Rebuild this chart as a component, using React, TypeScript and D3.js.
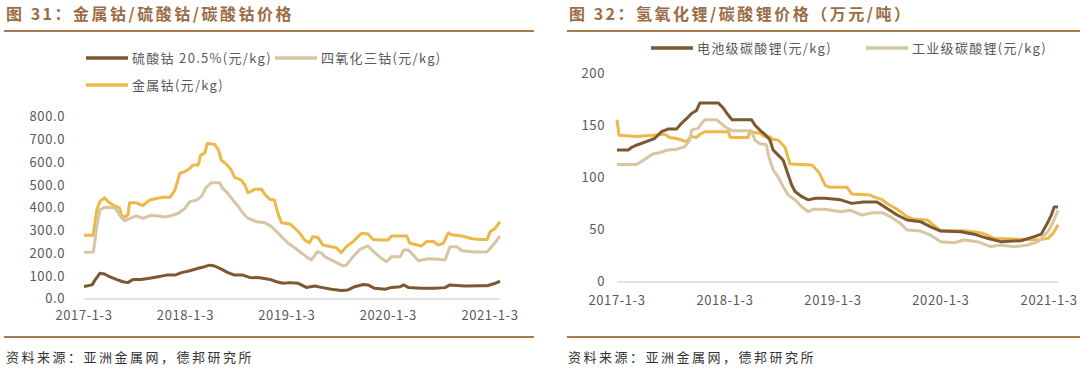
import React from 'react';
import * as d3 from 'd3';

// ---- left chart: cobalt prices (元/kg)
const coSulfate: [string, number][] = [
  ['2017-01-03', 55], ['2017-02-01', 62], ['2017-02-12', 84], ['2017-03-01', 113], ['2017-03-18', 110],
  ['2017-04-05', 98], ['2017-04-29', 86], ['2017-05-23', 76], ['2017-06-10', 72], ['2017-06-28', 86],
  ['2017-07-28', 86], ['2017-08-27', 91], ['2017-09-27', 98], ['2017-10-27', 105], ['2017-11-26', 105],
  ['2017-12-20', 116], ['2018-01-19', 124], ['2018-02-18', 135], ['2018-03-13', 142], ['2018-03-31', 149],
  ['2018-04-18', 145], ['2018-05-12', 131], ['2018-06-05', 116], ['2018-06-29', 105], ['2018-07-29', 105],
  ['2018-08-22', 95], ['2018-09-28', 93], ['2018-11-03', 86], ['2018-11-27', 76], ['2018-12-21', 69],
  ['2019-01-14', 72], ['2019-02-13', 69], ['2019-03-14', 51], ['2019-04-13', 57], ['2019-05-07', 51],
  ['2019-06-12', 43], ['2019-07-18', 37], ['2019-08-11', 40], ['2019-09-04', 54], ['2019-10-05', 64],
  ['2019-10-22', 62], ['2019-11-15', 47], ['2019-12-22', 43], ['2020-01-15', 51], ['2020-02-15', 54],
  ['2020-02-27', 62], ['2020-03-15', 51], ['2020-05-02', 47], ['2020-06-19', 47], ['2020-07-25', 50],
  ['2020-08-12', 62], ['2020-10-05', 57], ['2020-11-29', 58], ['2020-12-24', 58], ['2021-01-22', 69],
  ['2021-02-08', 79],
];

const coOxide: [string, number][] = [
  ['2017-01-03', 205], ['2017-02-06', 207], ['2017-02-18', 318], ['2017-03-01', 391], ['2017-03-18', 403],
  ['2017-04-23', 400], ['2017-05-04', 384], ['2017-05-17', 359], ['2017-05-29', 344], ['2017-06-16', 353],
  ['2017-07-10', 365], ['2017-08-03', 355], ['2017-09-03', 368], ['2017-09-27', 365], ['2017-10-21', 360],
  ['2017-11-20', 369], ['2017-12-08', 377], ['2018-01-01', 398], ['2018-01-19', 428], ['2018-02-13', 435],
  ['2018-03-01', 450], ['2018-03-19', 491], ['2018-04-06', 511], ['2018-05-06', 511], ['2018-05-17', 486],
  ['2018-06-05', 464], ['2018-06-23', 435], ['2018-07-11', 409], ['2018-07-29', 377], ['2018-08-16', 355],
  ['2018-09-16', 340], ['2018-10-16', 335], ['2018-11-09', 318], ['2018-12-03', 289], ['2018-12-15', 274],
  ['2019-01-08', 245], ['2019-01-26', 230], ['2019-02-19', 208], ['2019-03-14', 186], ['2019-04-01', 171],
  ['2019-04-23', 208], ['2019-05-07', 204], ['2019-05-19', 186], ['2019-06-24', 164], ['2019-07-24', 146],
  ['2019-08-05', 149], ['2019-08-29', 186], ['2019-09-23', 218], ['2019-10-22', 233], ['2019-11-15', 204],
  ['2019-12-09', 179], ['2019-12-28', 164], ['2020-01-15', 186], ['2020-02-15', 186], ['2020-02-27', 215],
  ['2020-03-15', 215], ['2020-04-02', 193], ['2020-04-20', 168], ['2020-05-25', 177], ['2020-07-01', 175],
  ['2020-07-25', 171], ['2020-08-12', 230], ['2020-09-05', 230], ['2020-09-24', 212], ['2020-11-11', 207],
  ['2020-12-24', 208], ['2021-01-04', 223], ['2021-01-24', 252], ['2021-02-08', 277],
];

const coMetal: [string, number][] = [
  ['2017-01-03', 280], ['2017-02-05', 280], ['2017-02-18', 391], ['2017-03-01', 428], ['2017-03-18', 445],
  ['2017-03-30', 428], ['2017-04-23', 409], ['2017-05-11', 400], ['2017-05-17', 369], ['2017-05-29', 360],
  ['2017-06-10', 369], ['2017-06-16', 423], ['2017-07-10', 423], ['2017-08-03', 411], ['2017-08-27', 435],
  ['2017-09-21', 442], ['2017-10-15', 447], ['2017-11-08', 447], ['2017-11-26', 479], ['2017-12-14', 552],
  ['2018-01-01', 560], ['2018-01-19', 574], ['2018-01-31', 589], ['2018-02-18', 589], ['2018-02-27', 633],
  ['2018-03-13', 640], ['2018-03-23', 684], ['2018-04-18', 680], ['2018-05-02', 655], ['2018-05-12', 611],
  ['2018-05-30', 593], ['2018-06-17', 567], ['2018-06-29', 535], ['2018-07-23', 523], ['2018-08-05', 501],
  ['2018-08-16', 467], ['2018-09-10', 482], ['2018-10-04', 482], ['2018-10-18', 457], ['2018-11-03', 438],
  ['2018-11-19', 435], ['2018-12-03', 372], ['2018-12-15', 335], ['2019-01-14', 330], ['2019-02-01', 311],
  ['2019-02-19', 289], ['2019-03-08', 259], ['2019-03-26', 248], ['2019-04-06', 274], ['2019-04-25', 270],
  ['2019-05-13', 237], ['2019-06-12', 230], ['2019-06-30', 225], ['2019-07-18', 204], ['2019-08-05', 230],
  ['2019-08-29', 252], ['2019-09-29', 289], ['2019-10-22', 286], ['2019-11-09', 262], ['2019-12-09', 259],
  ['2020-01-02', 259], ['2020-01-15', 277], ['2020-03-09', 277], ['2020-03-21', 245], ['2020-05-02', 233],
  ['2020-05-20', 253], ['2020-06-13', 253], ['2020-07-01', 237], ['2020-07-19', 245], ['2020-08-06', 291],
  ['2020-08-18', 282], ['2020-09-24', 277], ['2020-10-30', 265], ['2020-11-29', 262], ['2020-12-24', 262],
  ['2021-01-04', 296], ['2021-01-22', 311], ['2021-02-08', 340],
];

// ---- right chart: lithium prices (万元/吨)
const liBattery: [string, number][] = [
  ['2017-01-03', 127], ['2017-02-10', 127], ['2017-02-22', 129.5], ['2017-03-14', 132], ['2017-04-12', 135],
  ['2017-05-10', 138], ['2017-06-02', 144.5], ['2017-06-24', 147], ['2017-07-23', 147], ['2017-08-09', 152.6],
  ['2017-08-26', 157], ['2017-09-12', 162], ['2017-09-29', 165], ['2017-10-10', 172], ['2017-12-12', 172],
  ['2017-12-29', 167], ['2018-01-10', 162], ['2018-01-27', 156], ['2018-04-03', 156], ['2018-04-14', 151],
  ['2018-05-01', 146], ['2018-05-18', 142], ['2018-06-04', 136.5], ['2018-06-15', 127], ['2018-07-02', 122],
  ['2018-07-19', 117], ['2018-08-03', 104.5], ['2018-08-17', 93], ['2018-08-28', 87], ['2018-09-20', 82],
  ['2018-10-12', 79], ['2018-11-04', 80.5], ['2018-12-08', 80.5], ['2019-01-29', 79], ['2019-03-08', 75.6],
  ['2019-04-16', 77], ['2019-06-01', 77], ['2019-07-04', 71], ['2019-08-08', 64.4], ['2019-09-11', 59.6],
  ['2019-10-26', 58], ['2019-11-30', 53], ['2020-01-02', 49], ['2020-03-10', 48.4], ['2020-04-24', 46],
  ['2020-06-08', 42], ['2020-07-23', 38.8], ['2020-09-30', 39.7], ['2020-11-14', 43.6], ['2020-12-07', 46],
  ['2020-12-27', 56], ['2021-01-10', 64], ['2021-01-20', 72], ['2021-02-02', 72],
];

const liIndustrial: [string, number][] = [
  ['2017-01-03', 113], ['2017-03-09', 113], ['2017-03-26', 115.7], ['2017-04-12', 119], ['2017-05-04', 123],
  ['2017-05-27', 124.3], ['2017-06-24', 127], ['2017-07-23', 127.6], ['2017-08-20', 130], ['2017-09-06', 136.5],
  ['2017-09-12', 146], ['2017-10-05', 148], ['2017-10-16', 152.5], ['2017-10-27', 156], ['2017-12-06', 156],
  ['2017-12-23', 152], ['2018-01-10', 148], ['2018-01-27', 145.5], ['2018-04-03', 145.5], ['2018-04-14', 136.5],
  ['2018-05-01', 133], ['2018-05-23', 132], ['2018-05-31', 120.5], ['2018-06-15', 107.7], ['2018-07-02', 101],
  ['2018-07-19', 91.6], ['2018-08-05', 83.6], ['2018-08-28', 79], ['2018-09-20', 72.4], ['2018-10-12', 67.6],
  ['2018-10-29', 70], ['2018-12-08', 70], ['2019-01-29', 67.6], ['2019-03-02', 69], ['2019-04-11', 64.4],
  ['2019-05-20', 66.7], ['2019-06-18', 66.7], ['2019-07-16', 62.8], ['2019-08-19', 56.4], ['2019-09-11', 50],
  ['2019-10-26', 49], ['2019-11-30', 45], ['2020-01-02', 38.8], ['2020-02-17', 37.8], ['2020-03-21', 40.4],
  ['2020-05-05', 38.8], ['2020-06-20', 34], ['2020-07-23', 35.6], ['2020-09-07', 34], ['2020-10-23', 35.6],
  ['2020-11-26', 38.8], ['2020-12-30', 48.4], ['2021-01-17', 58], ['2021-02-02', 69],
];

const liHydroxide: [string, number][] = [
  ['2017-01-03', 156], ['2017-01-10', 141], ['2017-03-14', 140], ['2017-06-14', 142], ['2017-06-30', 139],
  ['2017-07-23', 138], ['2017-08-09', 136.5], ['2017-08-26', 135], ['2017-09-12', 140], ['2017-09-29', 139],
  ['2017-10-10', 142], ['2017-10-27', 144.5], ['2018-01-15', 144.5], ['2018-01-21', 139], ['2018-03-22', 139],
  ['2018-03-28', 144.5], ['2018-05-01', 143], ['2018-05-18', 139.7], ['2018-06-04', 139.7], ['2018-06-15', 137],
  ['2018-07-02', 136.5], ['2018-07-14', 133], ['2018-07-25', 129.5], ['2018-08-11', 113.5], ['2018-10-24', 112.5],
  ['2018-11-15', 106], ['2018-11-21', 103], ['2018-12-08', 93], ['2018-12-25', 91], ['2019-02-20', 91],
  ['2019-03-08', 84.6], ['2019-05-09', 83.6], ['2019-05-26', 81.4], ['2019-06-18', 79.5], ['2019-07-04', 75.6],
  ['2019-08-08', 70], ['2019-09-11', 62.8], ['2019-10-04', 60.3], ['2019-11-18', 59.6], ['2019-12-16', 53.2],
  ['2020-01-02', 49.3], ['2020-03-21', 49.3], ['2020-05-16', 47.4], ['2020-06-08', 45], ['2020-07-01', 42],
  ['2020-09-30', 41], ['2020-11-26', 40.4], ['2020-12-30', 42], ['2021-01-17', 47], ['2021-02-02', 55],
];

const tickDates = ['2017-01-03', '2018-01-03', '2019-01-03', '2020-01-03', '2021-01-03'];
const leftTicks = [0, 100, 200, 300, 400, 500, 600, 700, 800];
const rightTicks = [0, 50, 100, 150, 200];

const C_DARK = '#7d5830';
const C_BEIGE = '#d6c6a3';
const C_GOLD = '#eeb849';
const C_TITLE = '#9c6c45';
const C_RULE = '#a67c55';
const C_TEXT = '#595959';
const FONT = "'Noto Sans CJK SC', 'Noto Sans', sans-serif";

const parse = d3.timeParse('%Y-%m-%d');
const fmtTick = (d: Date) => `${d.getFullYear()}-${d.getMonth() + 1}-${d.getDate()}`;

type Series = { data: [string, number][]; color: string };

function Panel(props: {
  x0: number; x1: number; yBase: number; yTop: number; yMax: number;
  yTicks: number[]; yFmt: (v: number) => string; labelRight: number; xLabelY: number;
  series: Series[]; end: string;
}) {
  const p = props;
  const x = d3.scaleTime().domain([parse('2017-01-03')!, parse(p.end)!]).range([p.x0, p.x1]);
  const y = d3.scaleLinear().domain([0, p.yMax]).range([p.yBase, p.yTop]);
  const line = d3.line<[string, number]>().x(d => x(parse(d[0])!)).y(d => y(d[1]));
  return (
    <g fontFamily={FONT}>
      {p.yTicks.map(t => (
        <text key={t} x={p.labelRight} y={y(t)} dy="0.33em" textAnchor="end" fontSize={13}
          letterSpacing={0.6} fill={C_TEXT}>
          {p.yFmt(t)}
        </text>
      ))}
      <line x1={p.x0} x2={p.x1} y1={p.yBase} y2={p.yBase} stroke="#d9d9d9" strokeWidth={1.5} />
      {tickDates.map(t => (
        <text key={t} x={x(parse(t)!)} y={p.xLabelY} textAnchor="middle" fontSize={13}
          letterSpacing={0.6} fill={C_TEXT}>
          {fmtTick(parse(t)!)}
        </text>
      ))}
      {p.series.map((s, i) => (
        <path key={i} d={line(s.data) || ''} fill="none" stroke={s.color} strokeWidth={3} strokeLinejoin="round" />
      ))}
    </g>
  );
}

function Legend({ x, y, color, label }: { x: number; y: number; color: string; label: string }) {
  return (
    <g>
      <line x1={x} x2={x + 42} y1={y} y2={y} stroke={color} strokeWidth={3.5} />
      <text x={x + 46} y={y} dy="0.35em" fontSize={13} letterSpacing={1.3} fill={C_TEXT} fontFamily={FONT}>
        {label}
      </text>
    </g>
  );
}

export default function App() {
  return (
    <svg width={1080} height={371} style={{ position: 'absolute', left: 0, top: 0, background: '#fff' }}>
      {/* titles */}
      <text x={6} y={20} fontSize={16} fontWeight="bold" fill={C_TITLE} fontFamily={FONT} letterSpacing={2.5}>
        图 31：金属钴/硫酸钴/碳酸钴价格
      </text>
      <text x={569} y={20} fontSize={16} fontWeight="bold" fill={C_TITLE} fontFamily={FONT} letterSpacing={2.5}>
        图 32：氢氧化锂/碳酸锂价格（万元/吨）
      </text>
      <line x1={4} x2={534} y1={31} y2={31} stroke={C_RULE} strokeWidth={2} />
      <line x1={567} x2={1080} y1={31} y2={31} stroke={C_RULE} strokeWidth={2} />

      {/* legends */}
      <Legend x={86} y={58} color={C_DARK} label="硫酸钴 20.5%(元/kg)" />
      <Legend x={275} y={58} color={C_BEIGE} label="四氧化三钴(元/kg)" />
      <Legend x={86} y={85} color={C_GOLD} label="金属钴(元/kg)" />
      <Legend x={651} y={48} color={C_DARK} label="电池级碳酸锂(元/kg)" />
      <Legend x={866} y={48} color={C_BEIGE} label="工业级碳酸锂(元/kg)" />

      <Panel x0={84} x1={500} yBase={299} yTop={117} yMax={800} yTicks={leftTicks}
        yFmt={d3.format('.1f')} labelRight={65} xLabelY={320} end="2021-02-08"
        series={[{ data: coMetal, color: C_GOLD }, { data: coOxide, color: C_BEIGE }, { data: coSulfate, color: C_DARK }]} />
      <Panel x0={617} x1={1058} yBase={282} yTop={74} yMax={200} yTicks={rightTicks}
        yFmt={d3.format('d')} labelRight={605} xLabelY={305} end="2021-02-02"
        series={[{ data: liHydroxide, color: C_GOLD }, { data: liIndustrial, color: C_BEIGE }, { data: liBattery, color: C_DARK }]} />

      {/* footers */}
      <line x1={4} x2={534} y1={337} y2={337} stroke={C_RULE} strokeWidth={2} />
      <line x1={567} x2={1080} y1={337} y2={337} stroke={C_RULE} strokeWidth={2} />
      <text x={6} y={362} fontSize={13} fill="#333" fontFamily={FONT} letterSpacing={2.5}>资料来源：亚洲金属网，德邦研究所</text>
      <text x={568} y={362} fontSize={13} fill="#333" fontFamily={FONT} letterSpacing={2.5}>资料来源：亚洲金属网，德邦研究所</text>
    </svg>
  );
}
